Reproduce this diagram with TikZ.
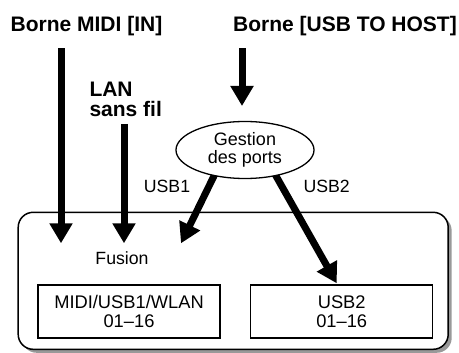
\documentclass[tikz,border=0pt]{standalone}
\usepackage{fontspec}
\setmainfont{Liberation Sans}
\usetikzlibrary{arrows.meta,shapes.geometric}
\pgfdeclarelayer{fg}
\pgfsetlayers{main,fg}
\begin{document}
\begin{tikzpicture}[x=1pt,y=-1pt,
  title/.style={font=\fontsize{21}{24}\selectfont\bfseries, inner sep=0pt, anchor=base},
  lbl/.style={font=\fontsize{17.7}{19}\selectfont, inner sep=0pt, anchor=base},
  flow/.style={line width=7pt, -{Triangle[width=22pt,length=20pt]}},
  chbox/.style={draw, line width=1.3pt, minimum width=182pt, minimum height=53pt,
    inner sep=0pt, align=center, font=\fontsize{18.3}{18.5}\selectfont},
  device/.style={draw, line width=1.5pt, rounded corners=15pt, fill=white,
    minimum width=430pt, minimum height=137pt, inner sep=0pt},
  devshadow/.style={fill=black!40, rounded corners=15pt,
    minimum width=430pt, minimum height=137pt, inner sep=0pt},
  port/.style={ellipse, draw, line width=1.3pt, fill=white, minimum width=138pt,
    minimum height=57pt, inner sep=0pt, align=center, font=\fontsize{18}{18.5}\selectfont}
]
\useasboundingbox (0,0) rectangle (459,353);

% device frame with shadow
\node[devshadow] (devsh) at (236.7,284.3) {};
\node[device] (dev) at (233.2,280.8) {};

% titles
\node[title] (midi) at (86.5,32) {Borne MIDI [IN]};
\node[title] (usb) at (345,32) {Borne [USB TO HOST]};
\node[title, anchor=base west] (lan1) at (89.3,96.7) {LAN};
\node[title, anchor=base west] (lan2) at (89.3,116.5) {sans fil};

% port management
\begin{pgfonlayer}{fg}
\node[port] (gp) at (245,150) {Gestion\\des ports};
\end{pgfonlayer}

% labels
\node[lbl] (usb1) at (167,192.7) {USB1};
\node[lbl] (usb2) at (326.7,192.7) {USB2};
\node[lbl] (fus) at (122,265) {Fusion};

% boxes
\node[chbox] (b1) at (129,311.5) {MIDI/USB1/WLAN\\01–16};
\node[chbox] (b2) at (341.7,311.5) {USB2\\01–16};

% arrow ends
\coordinate (midiS) at (61,48.3);
\coordinate (midiE) at (61,243.3);
\coordinate (lanS) at (124,124);
\coordinate (lanE) at (124,243.3);
\coordinate (usbS) at (242,48.3);
\coordinate (usbE) at (242,106);
\coordinate (u1E) at (181,243.3);
\coordinate (u2E) at (336.7,283.3);

\draw[flow] (midiS) -- (midiE);
\draw[flow] (lanS) -- (lanE);
\draw[flow] (usbS) -- (usbE);
\draw[flow, shorten <=-5pt] (gp.-140) -- (u1E);
\draw[flow, shorten <=-5pt] (gp.-40) -- (u2E);
\end{tikzpicture}
\end{document}
